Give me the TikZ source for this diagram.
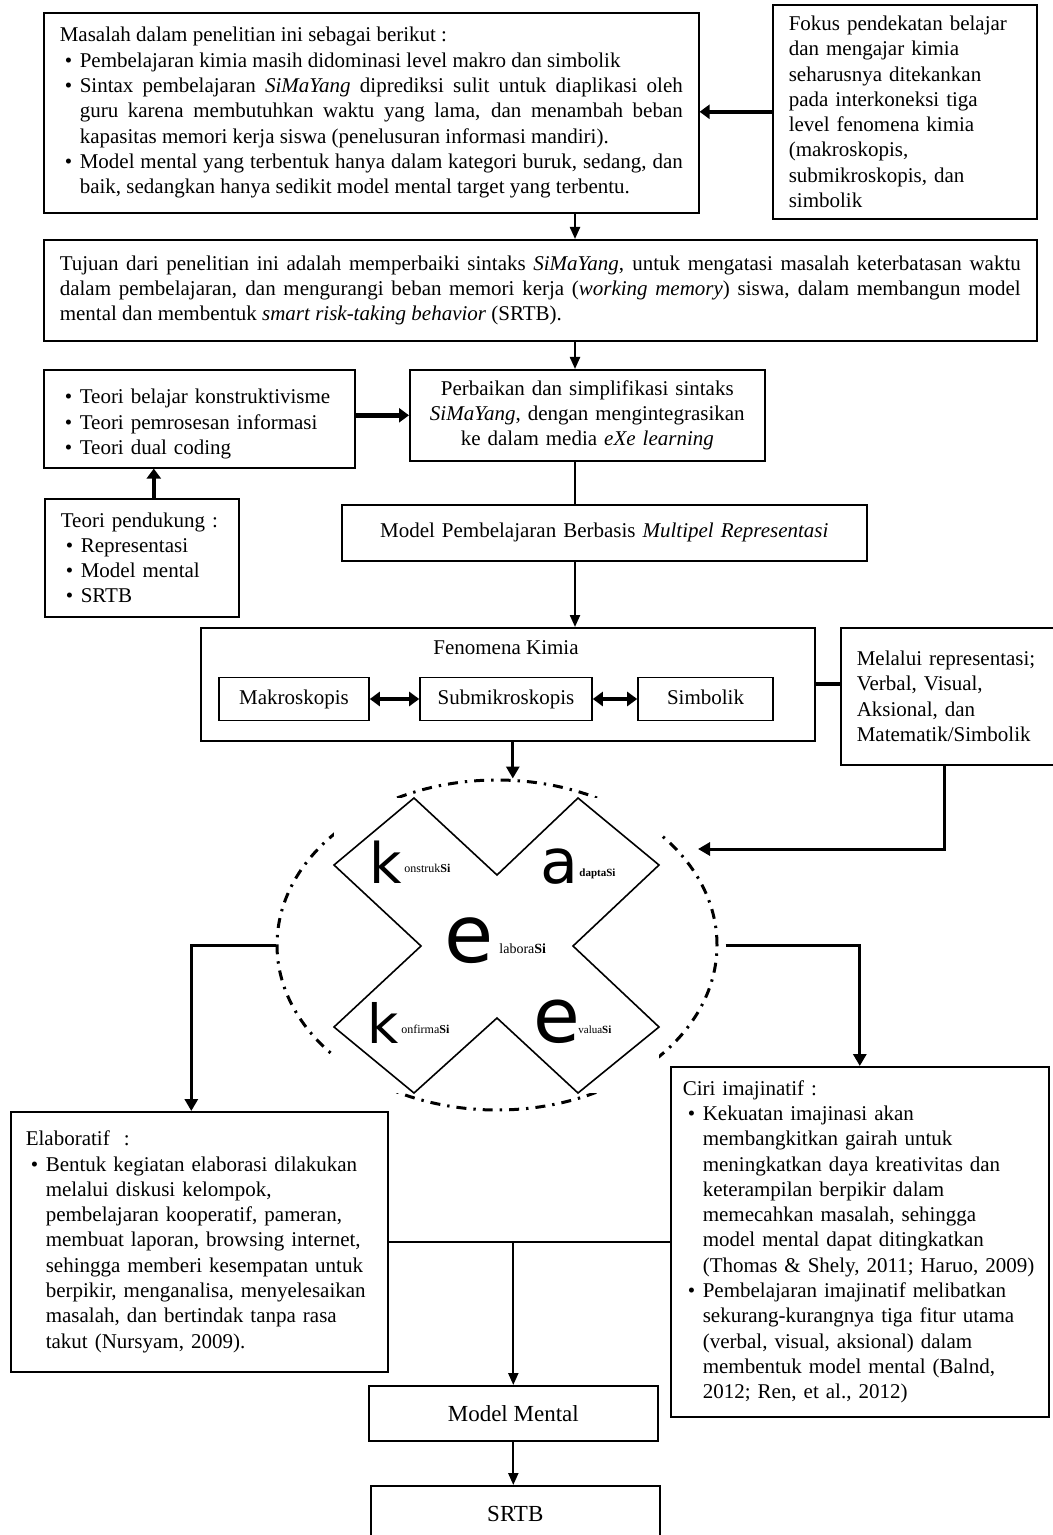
\documentclass[tikz,border=0pt]{standalone}
\usepackage{fontspec}
\setmainfont{Liberation Serif}
\newfontfamily\kefont{DejaVu Sans}
\usetikzlibrary{arrows.meta,shapes.geometric}

% bullet item with hanging indent
\newcommand{\itm}{\par\noindent\hangindent=10pt\hangafter=1\makebox[10pt][l]{\hspace{2.5pt}\textbullet}}

\tikzset{
  box/.style={draw, line width=0.8pt, anchor=north west, inner xsep=8pt, inner ysep=0pt,
    font=\fontsize{10.5}{12.65}\selectfont},
  lvl/.style={draw, line width=0.8pt, minimum height=21.5pt, inner sep=0pt,
    text height=7.4pt, text depth=2.3pt, font=\fontsize{10.5}{12.65}\selectfont},
  con/.style={line width=1.1pt, -{Triangle[length=6pt,width=5pt]}},
  fat/.style={line width=2.2pt, -{Triangle[length=5pt,width=7pt]}},
  dbl/.style={line width=2pt, {Triangle[length=5pt,width=7pt]}-{Triangle[length=5pt,width=7pt]}},
  link/.style={line width=1.5pt, -{Triangle[length=6pt,width=6.5pt]}},
  kbig/.style={font=\kefont\fontsize{#1}{#1}\selectfont, inner sep=0pt, anchor=base},
  ktag/.style={font=\fontsize{#1}{#1}\selectfont, inner sep=0pt, anchor=base west}
}

\begin{document}
\begin{tikzpicture}[x=0.5pt,y=-0.5pt]
  \useasboundingbox[fill=white] (0,0) rectangle (1053,1535);

  % Spine
  \coordinate (sp) at (575,0);

  % Problem, focus and aim
  \node[box, text width=311.5pt, minimum height=100pt, align=justify] (masalah) at (43,12) {%
    Masalah dalam penelitian ini sebagai berikut :
    \itm Pembelajaran kimia masih didominasi level makro dan simbolik
    \itm Sintax pembelajaran \textit{SiMaYang} diprediksi sulit untuk diaplikasi oleh\linebreak
      guru karena membutuhkan waktu yang lama, dan menambah beban\linebreak
      kapasitas memori kerja siswa (penelusuran informasi mandiri).
    \itm Model mental yang terbentuk hanya dalam kategori buruk, sedang, dan\linebreak
      baik, sedangkan hanya sedikit model mental target yang terbentu.\par};
  \node[box, text width=116pt, minimum height=107pt, align=left] (fokus) at (772,4) {%
    Fokus pendekatan belajar\\ dan mengajar kimia\\ seharusnya ditekankan\\
    pada interkoneksi tiga\\ level fenomena kimia\\ (makroskopis,\\
    submikroskopis, dan\\ simbolik};
  \node[box, text width=480.5pt, minimum height=50.5pt, align=justify] (tujuan) at (43,239) {%
    Tujuan dari penelitian ini adalah memperbaiki sintaks \textit{SiMaYang}, untuk mengatasi masalah keterbatasan waktu\linebreak
    dalam pembelajaran, dan mengurangi beban memori kerja (\textit{working memory}) siswa, dalam membangun model\linebreak
    mental dan membentuk \textit{smart risk-taking behavior} (SRTB).};

  % Theories and syntax
  \node[box, text width=139.5pt, minimum height=49pt, align=left] (teori) at (43,369) {%
    \itm Teori belajar konstruktivisme
    \itm Teori pemrosesan informasi
    \itm Teori dual coding\par};
  \node[box, text width=161.5pt, minimum height=45.5pt, align=center] (perbaikan) at (409,369) {%
    Perbaikan dan simplifikasi sintaks\\
    \textit{SiMaYang}, dengan mengintegrasikan\\
    ke dalam media \textit{eXe learning}};
  \node[box, text width=81pt, minimum height=59pt, align=left] (pendukung) at (44,498) {%
    Teori pendukung :
    \itm Representasi
    \itm Model mental
    \itm SRTB\par};
  \node[box, text width=246.5pt, minimum height=28pt, align=center] (modelpb) at (341,504) {%
    Model Pembelajaran Berbasis \textit{Multipel Representasi}};

  % Chemistry levels
  \node[box, minimum width=307pt, minimum height=56.5pt] (fenomena) at (200,627) {};
  \node[font=\fontsize{10.5}{12.65}\selectfont, inner sep=0pt] (fentitle) at (506,648) {Fenomena Kimia};
  \node[lvl, minimum width=75pt] (makro) at (294,699) {Makroskopis};
  \node[lvl, minimum width=86pt] (submik) at (506,699) {Submikroskopis};
  \node[lvl, minimum width=67.5pt] (simbol) at (705.5,699) {Simbolik};
  \node[box, text width=96pt, minimum height=68.5pt, align=left] (melalui) at (840,627) {%
    Melalui representasi;\\ Verbal, Visual,\\ Aksional, dan\\ Matematik/Simbolik};

  % kaeke
  \node[ellipse, draw, line width=1.5pt, dash pattern=on 5pt off 3.5pt on 1.2pt off 3.5pt,
    minimum width=220pt, minimum height=165pt, inner sep=0pt] (kea) at (497,945) {};
  \fill[white] (334,798) rectangle (659,1093);
  \draw[line width=0.8pt] (414,798) -- (497,875) -- (578,798) -- (659,865) -- (573,946)
    -- (659,1027) -- (578,1093) -- (497,1018) -- (414,1093) -- (334,1027) -- (421,946)
    -- (334,865) -- cycle;
  \node[kbig=28] (k1) at (386,883) {k};
  \node[ktag=6] (k1t) at (404,872) {onstruk\textbf{Si}};
  \node[kbig=31] (a1) at (559,883) {a};
  \node[ktag=5.5] (a1t) at (579,876) {\textbf{daptaSi}};
  \node[kbig=40] (e1) at (469,962) {e};
  \node[ktag=7] (e1t) at (499,953) {labora\textbf{Si}};
  \node[kbig=27] (k2) at (383,1043) {k};
  \node[ktag=6] (k2t) at (401,1033) {onfirma\textbf{Si}};
  \node[kbig=38] (e2) at (557,1042) {e};
  \node[ktag=5.5] (e2t) at (578,1033) {valua\textbf{Si}};
  \coordinate (kin) at (698,849);

  % Elaboration and imagination
  \node[box, inner xsep=7.5pt, text width=173.5pt, minimum height=130pt, align=left] (elab) at (10,1111) {%
    Elaboratif~ :
    \itm Bentuk kegiatan elaborasi dilakukan\newline melalui diskusi kelompok,\newline
      pembelajaran kooperatif, pameran,\newline membuat laporan, browsing internet,\newline
      sehingga memberi kesempatan untuk\newline berpikir, menganalisa, menyelesaikan\newline
      masalah, dan bertindak tanpa rasa\newline takut (Nursyam, 2009).\par\vspace{9pt}};
  \node[box, inner xsep=6pt, text width=177pt, minimum height=175pt, align=left] (ciri) at (670,1066) {%
    Ciri imajinatif :
    \itm Kekuatan imajinasi akan\newline membangkitkan gairah untuk\newline
      meningkatkan daya kreativitas dan\newline keterampilan berpikir dalam\newline
      memecahkan masalah, sehingga\newline model mental dapat ditingkatkan\newline
      \mbox{(Thomas \& Shely, 2011; Haruo, 2009)}
    \itm Pembelajaran imajinatif melibatkan\newline sekurang-kurangnya tiga fitur utama\newline
      (verbal, visual, aksional) dalam\newline membentuk model mental (Balnd,\newline
      2012; Ren, et al., 2012)\par\vspace{4pt}};

  % Outcome
  \node[box, minimum width=144.5pt, minimum height=27.5pt, font=\fontsize{11.5}{13}\selectfont] (mental) at (368,1385) {Model Mental};
  \node[box, minimum width=144.5pt, minimum height=28pt, font=\fontsize{11.5}{13}\selectfont] (srtb) at (370,1485) {SRTB};

  % Connections
  \draw[fat] (fokus.west) -- (fokus.west -| masalah.east);
  \draw[con] (masalah.south -| sp) -- (tujuan.north -| sp);
  \draw[con] (tujuan.south -| sp) -- (perbaikan.north -| sp);
  \draw[fat] (teori.east |- perbaikan.west) -- (perbaikan.west);
  \draw[fat] ([xshift=6pt]pendukung.north) -- ([xshift=6pt]pendukung.north |- teori.south);
  \draw[line width=1.1pt] (perbaikan.south -| sp) -- (modelpb.north -| sp);
  \draw[con] (modelpb.south -| sp) -- (fenomena.north -| sp);
  \draw[dbl] (makro) -- (submik);
  \draw[dbl] (submik) -- (simbol);
  \draw[line width=2pt] (fenomena.east) -- (fenomena.east -| melalui.west);
  \draw[link] ([xshift=2.5pt]fenomena.south) -- ([xshift=2.5pt]fenomena.south |- kea.north);
  \draw[link] ([xshift=-4pt]melalui.south) |- (kin);
  \draw[link] (kea.west) -| ([xshift=-4pt]elab.north);
  \draw[link] ([xshift=3.5pt]kea.east) -| (ciri.north);
  \draw[line width=1.1pt] (elab.east) -- (ciri.west);
  \draw[con] (elab.east -| mental.north) -- (mental.north);
  \draw[con] (mental.south) -- (mental.south |- srtb.north);
\end{tikzpicture}
\end{document}
